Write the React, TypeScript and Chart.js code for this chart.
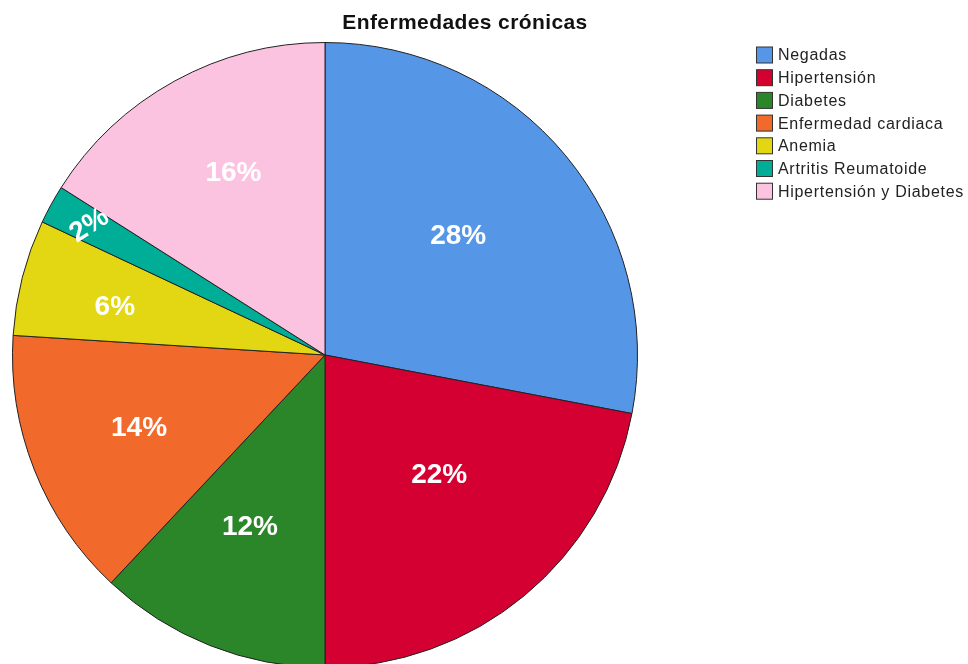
import React, { useEffect, useRef } from "react";
import { Chart, registerables } from "chart.js";

Chart.register(...registerables);

const categories = [
  "Negadas",
  "Hipertensión",
  "Diabetes",
  "Enfermedad cardiaca",
  "Anemia",
  "Artritis Reumatoide",
  "Hipertensión y Diabetes",
];
const values = [28, 22, 12, 14, 6, 2, 16];
const percentLabels = ["28%", "22%", "12%", "14%", "6%", "2%", "16%"];
const colors = ["#5696E6", "#D50032", "#2B862A", "#F1692B", "#E3D612", "#00AE98", "#FCC3E1"];
const chartTitle = "Enfermedades crónicas";

// label placement along radius (fraction of radius), angle shift (deg) and rotation (deg)
const labelRadius = [0.57, 0.53, 0.6, 0.64, 0.69, 0.86, 0.65];
const labelShift = [-2, -4, 2, 0, -1.5, 0, 2];
const labelRotation = [0, 0, 0, 0, 0, -33, 0];

const overlayPlugin = {
  id: "overlay",
  afterDatasetsDraw(chart: any) {
    const ctx = chart.ctx;
    const meta = chart.getDatasetMeta(0);
    ctx.save();
    ctx.fillStyle = "#ffffff";
    ctx.font = "bold 28px Arial, 'Liberation Sans', sans-serif";
    ctx.textAlign = "center";
    ctx.textBaseline = "middle";
    meta.data.forEach((arc: any, i: number) => {
      const mid = (arc.startAngle + arc.endAngle) / 2 + (labelShift[i] * Math.PI) / 180;
      const r = arc.outerRadius * labelRadius[i];
      const x = arc.x + Math.cos(mid) * r;
      const y = arc.y + Math.sin(mid) * r;
      ctx.save();
      ctx.translate(x, y);
      ctx.rotate((labelRotation[i] * Math.PI) / 180);
      ctx.fillText(percentLabels[i], 0, 0);
      ctx.restore();
    });
    ctx.restore();

    // title
    ctx.save();
    ctx.fillStyle = "#111111";
    ctx.font = "bold 21px Arial, 'Liberation Sans', sans-serif";
    (ctx as any).letterSpacing = "0.4px";
    ctx.textAlign = "center";
    ctx.textBaseline = "middle";
    ctx.fillText(chartTitle, 465, 23);
    ctx.restore();

    // legend
    ctx.save();
    ctx.font = "16px Arial, 'Liberation Sans', sans-serif";
    (ctx as any).letterSpacing = "0.7px";
    ctx.textBaseline = "middle";
    ctx.textAlign = "left";
    categories.forEach((c, i) => {
      const y = 55 + i * 22.7;
      ctx.fillStyle = colors[i];
      ctx.fillRect(756.5, y - 8, 16, 16);
      ctx.strokeStyle = "#333333";
      ctx.lineWidth = 1;
      ctx.strokeRect(756.5, y - 8, 16, 16);
      ctx.fillStyle = "#222222";
      ctx.fillText(c, 778, y + 1);
    });
    ctx.restore();
  },
};

export default function App() {
  const ref = useRef<HTMLCanvasElement>(null);
  useEffect(() => {
    if (!ref.current) return;
    const chart = new Chart(ref.current, {
      type: "pie",
      data: {
        labels: categories,
        datasets: [
          {
            data: values,
            backgroundColor: colors,
            borderColor: "#222222",
            borderWidth: 1,
          },
        ],
      },
      options: {
        responsive: false,
        animation: false,
        layout: { padding: { left: 12, top: 42, right: 330, bottom: 12 } },
        plugins: {
          legend: { display: false },
          title: { display: false },
          tooltip: { enabled: false },
        },
      },
      plugins: [overlayPlugin],
    });
    return () => chart.destroy();
  }, []);
  return (
    <div style={{ position: "absolute", left: 0, top: 0, width: 968, height: 664, overflow: "hidden", background: "#fff" }}>
      <canvas ref={ref} width={968} height={680} style={{ display: "block" }} />
    </div>
  );
}
